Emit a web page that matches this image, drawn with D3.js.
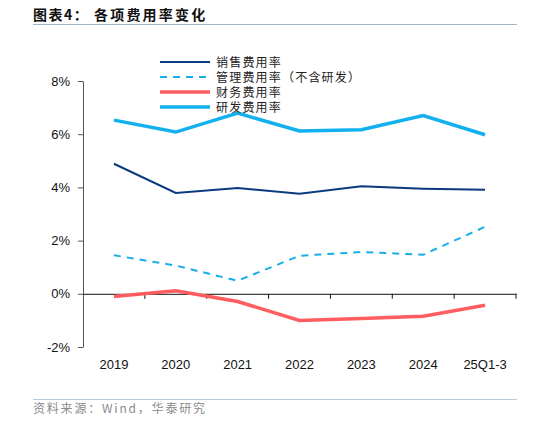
<!DOCTYPE html>
<html>
<head>
<meta charset="utf-8">
<script src="https://cdn.jsdelivr.net/npm/d3@7"></script>
<style>
  body { margin: 0; background: #fff; }
  svg { display: block; font-family: "Liberation Sans", Arial, sans-serif; }
  .cjk { font-family: "Noto Sans CJK SC", sans-serif; }
</style>
</head>
<body>
<svg id="chart" width="534" height="424"></svg>
<script>
// data
const years = ["2019", "2020", "2021", "2022", "2023", "2024", "25Q1-3"];
const sellingRate = [4.89, 3.79, 3.98, 3.76, 4.04, 3.95, 3.91];
const adminRate = [1.45, 1.06, 0.49, 1.43, 1.57, 1.47, 2.52];
const financeRate = [-0.10, 0.11, -0.29, -1.00, -0.93, -0.84, -0.43];
const rdRate = [6.53, 6.08, 6.79, 6.12, 6.17, 6.70, 5.98];
const yTicks = [-2, 0, 2, 4, 6, 8];

const seriesList = [
    { name: "销售费用率", values: sellingRate, color: "#0b3a7e", width: 2, dash: null },
    { name: "管理费用率（不含研发）", values: adminRate, color: "#18aee8", width: 2, dash: "7,6" },
    { name: "财务费用率", values: financeRate, color: "#ff5d5f", width: 3.5, dash: null },
    { name: "研发费用率", values: rdRate, color: "#12b0ee", width: 3.5, dash: null }
];

const svg = d3.select("#chart");
const margin = { left: 83, right: 18, top: 81, bottom: 77 };
const width = 534 - margin.left - margin.right;
const height = 424 - margin.top - margin.bottom;

// title
svg.append("text")
    .attr("class", "cjk")
    .attr("x", 33).attr("y", 20)
    .attr("font-size", 14).attr("font-weight", "bold").attr("fill", "#111")
    .attr("letter-spacing", 1.5)
    .text("图表4：");
svg.append("text")
    .attr("class", "cjk")
    .attr("x", 94).attr("y", 20)
    .attr("font-size", 14).attr("font-weight", "bold").attr("fill", "#111")
    .attr("letter-spacing", 2.2)
    .text("各项费用率变化");
svg.append("line")
    .attr("x1", 33).attr("x2", 517).attr("y1", 24.5).attr("y2", 24.5)
    .attr("stroke", "#9fb6cc").attr("stroke-width", 1);

const chart = svg.append("g").attr("transform", `translate(${margin.left},${margin.top})`);

const x = d3.scaleBand().domain(years).range([0, width]);
const y = d3.scaleLinear().domain([-2, 8]).range([height, 0]);

// y axis
const yAxis = chart.append("g")
    .call(d3.axisLeft(y).tickValues(yTicks).tickFormat(d => d + "%").tickSize(5).tickSizeOuter(0).tickPadding(8));
yAxis.select(".domain").attr("stroke", "#555");
yAxis.selectAll(".tick line").attr("stroke", "#555");
yAxis.selectAll("text").attr("font-size", 13).attr("fill", "#111")
    .attr("font-family", "Liberation Sans, Arial, sans-serif");

// x axis at zero
const xAxis = chart.append("g")
    .attr("transform", `translate(0,${y(0)})`)
    .call(d3.axisBottom(x).tickSize(0).tickSizeOuter(0));
xAxis.select(".domain").attr("stroke", "#111");
xAxis.selectAll(".tick text").remove();
// tick marks at band boundaries
chart.append("g").selectAll("line")
    .data(years)
    .join("line")
    .attr("x1", d => x(d) + x.bandwidth()).attr("x2", d => x(d) + x.bandwidth())
    .attr("y1", y(0)).attr("y2", y(0) + 5)
    .attr("stroke", "#111");

// x labels at the bottom
chart.append("g").selectAll("text")
    .data(years)
    .join("text")
    .attr("x", d => x(d) + x.bandwidth() / 2)
    .attr("y", height + 22)
    .attr("text-anchor", "middle")
    .attr("font-size", 13).attr("fill", "#111")
    .text(d => d);

const line = d3.line()
    .x((d, i) => x(years[i]) + x.bandwidth() / 2)
    .y(d => y(d));

chart.selectAll(".series")
    .data(seriesList)
    .join("path")
    .attr("class", "series")
    .attr("fill", "none")
    .attr("stroke", d => d.color)
    .attr("stroke-width", d => d.width)
    .attr("stroke-dasharray", d => d.dash)
    .attr("d", d => line(d.values));

// legend
const legend = svg.append("g").attr("transform", "translate(160,62)");
const rows = legend.selectAll("g")
    .data(seriesList)
    .join("g")
    .attr("transform", (d, i) => `translate(0,${i * 15})`);
rows.append("line")
    .attr("x1", 0).attr("x2", 50)
    .attr("stroke", d => d.color)
    .attr("stroke-width", d => d.width)
    .attr("stroke-dasharray", d => d.dash);
rows.append("text")
    .attr("class", "cjk")
    .attr("x", 56).attr("y", 4.5)
    .attr("font-size", 12).attr("fill", "#222")
    .attr("letter-spacing", 1.2)
    .text(d => d.name);

// source
svg.append("line")
    .attr("x1", 33).attr("x2", 517).attr("y1", 399.5).attr("y2", 399.5)
    .attr("stroke", "#b9c9d8").attr("stroke-width", 1);
svg.append("text")
    .attr("class", "cjk")
    .attr("x", 33).attr("y", 413)
    .attr("font-size", 12).attr("fill", "#8a8a8a")
    .attr("letter-spacing", 1.8)
    .text("资料来源：Wind，华泰研究");
</script>
</body>
</html>
